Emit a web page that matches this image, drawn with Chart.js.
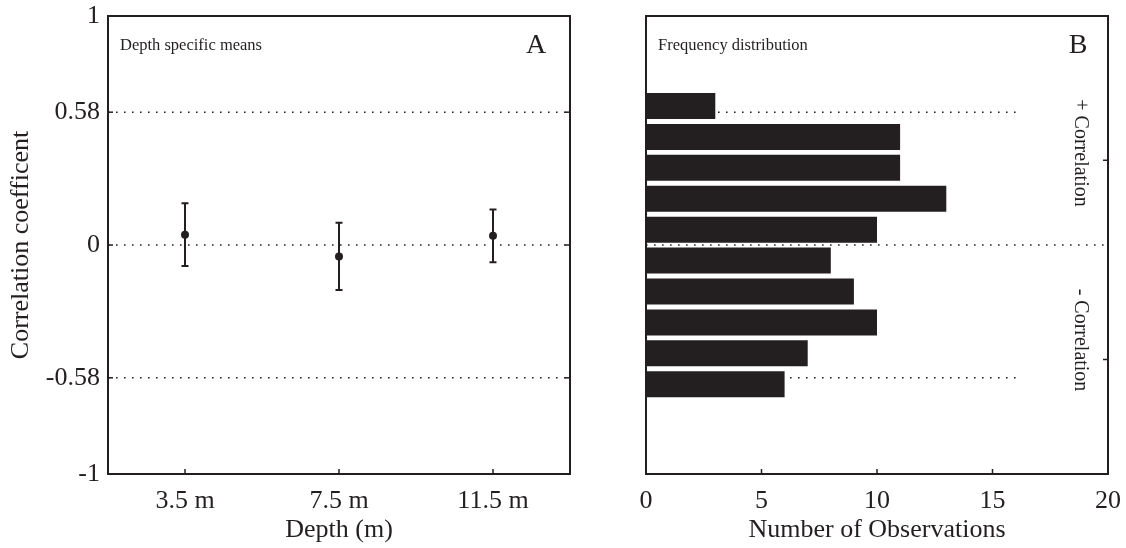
<!DOCTYPE html>
<html>
<head>
<meta charset="utf-8">
<script src="https://cdn.jsdelivr.net/npm/chart.js@4"></script>
<style>
  html, body { margin: 0; padding: 0; background: #fff; overflow: hidden; }
  #wrap { position: relative; width: 1126px; height: 548px; }
  canvas { position: absolute; top: 0; }
  #chartA { left: 0; }
  #chartB { left: 600px; }
</style>
</head>
<body>
<div id="wrap">
  <canvas id="chartA" width="600" height="548"></canvas>
  <canvas id="chartB" width="526" height="548"></canvas>
</div>
<script>
// panel A: depth specific means
const depthLabels = ['3.5 m', '7.5 m', '11.5 m'];
const depthMeans = [0.045, -0.05, 0.04];
const depthErrors = [0.137, 0.147, 0.115];
const corrTicks = [1, 0.58, 0, -0.58, -1];
const refLines = [0.58, 0, -0.58];

// panel B: frequency distribution
const binCenters = [0.607, 0.472, 0.337, 0.202, 0.067, -0.068, -0.203, -0.338, -0.473, -0.608];
const binCounts = [3, 11, 11, 13, 10, 8, 9, 10, 7, 6];
const countTicks = [0, 5, 10, 15, 20];
const sideTicks = [0.37, -0.5];
const refLineEnds = [16, 20, 16];

const ink = '#231f20';
Chart.defaults.font.family = '"Liberation Serif", "Times New Roman", serif';
Chart.defaults.color = ink;

function dotted(ctx, x1, x2, y) {
  ctx.save();
  ctx.strokeStyle = '#222';
  ctx.lineWidth = 1.6;
  ctx.setLineDash([1.6, 6.4]);
  ctx.beginPath();
  ctx.moveTo(x1, y);
  ctx.lineTo(x2, y);
  ctx.stroke();
  ctx.restore();
}

function frame(ctx, a) {
  ctx.save();
  ctx.strokeStyle = ink;
  ctx.lineWidth = 2;
  ctx.strokeRect(a.left, a.top, a.right - a.left, a.bottom - a.top);
  ctx.restore();
}

function tick(ctx, x1, y1, x2, y2) {
  ctx.save();
  ctx.strokeStyle = ink;
  ctx.lineWidth = 1.5;
  ctx.beginPath();
  ctx.moveTo(x1, y1);
  ctx.lineTo(x2, y2);
  ctx.stroke();
  ctx.restore();
}

// no extra room for end labels, the layout padding sets the plot box
function noEdgePad(s) {
  s.paddingLeft = 0; s.paddingRight = 0;
  s.paddingTop = 0; s.paddingBottom = 0;
}

const panelA = {
  id: 'panelA',
  beforeDatasetsDraw(chart) {
    const {ctx, chartArea: a, scales: {x, y}} = chart;
    refLines.forEach(v => dotted(ctx, a.left, a.right, y.getPixelForValue(v)));
    // error bars
    ctx.save();
    ctx.strokeStyle = ink;
    ctx.lineWidth = 2;
    depthMeans.forEach((m, i) => {
      const px = x.getPixelForValue(i);
      const top = y.getPixelForValue(m + depthErrors[i]);
      const bot = y.getPixelForValue(m - depthErrors[i]);
      ctx.beginPath();
      ctx.moveTo(px, top); ctx.lineTo(px, bot);
      ctx.moveTo(px - 3.5, top); ctx.lineTo(px + 3.5, top);
      ctx.moveTo(px - 3.5, bot); ctx.lineTo(px + 3.5, bot);
      ctx.stroke();
    });
    ctx.restore();
  },
  afterDraw(chart) {
    const {ctx, chartArea: a, scales: {x, y}} = chart;
    frame(ctx, a);
    refLines.forEach(v => {
      const py = y.getPixelForValue(v);
      tick(ctx, a.left, py, a.left + 5, py);
      tick(ctx, a.right, py, a.right - 5, py);
    });
    depthLabels.forEach((l, i) => {
      const px = x.getPixelForValue(i);
      tick(ctx, px, a.bottom, px, a.bottom - 5);
    });
    ctx.save();
    ctx.fillStyle = ink;
    ctx.textBaseline = 'middle';
    ctx.font = '16.5px "Liberation Serif"';
    ctx.fillText('Depth specific means', a.left + 12, a.top + 30);
    ctx.font = '28px "Liberation Serif"';
    ctx.textAlign = 'center';
    ctx.fillText('A', a.right - 34, a.top + 30);
    ctx.restore();
  }
};

const panelB = {
  id: 'panelB',
  beforeDatasetsDraw(chart) {
    const {ctx, scales: {x, y}} = chart;
    refLines.forEach((v, i) => dotted(ctx, x.getPixelForValue(0), x.getPixelForValue(refLineEnds[i]), y.getPixelForValue(v)));
  },
  afterDraw(chart) {
    const {ctx, chartArea: a, scales: {x, y}} = chart;
    frame(ctx, a);
    countTicks.slice(1, -1).forEach(v => {
      const px = x.getPixelForValue(v);
      tick(ctx, px, a.bottom, px, a.bottom - 5);
    });
    sideTicks.forEach(v => {
      const py = y.getPixelForValue(v);
      tick(ctx, a.right, py, a.right - 5, py);
    });
    ctx.save();
    ctx.fillStyle = ink;
    ctx.textBaseline = 'middle';
    ctx.font = '16.5px "Liberation Serif"';
    ctx.fillText('Frequency distribution', a.left + 12, a.top + 30);
    ctx.font = '28px "Liberation Serif"';
    ctx.textAlign = 'center';
    ctx.fillText('B', a.right - 30, a.top + 30);
    ctx.font = '20px "Liberation Serif"';
    [['+ Correlation', 153], ['- Correlation', 340]].forEach(([t, cy]) => {
      ctx.save();
      ctx.translate(a.right - 28, cy);
      ctx.rotate(Math.PI / 2);
      ctx.fillText(t, 0, 0);
      ctx.restore();
    });
    ctx.restore();
  }
};

new Chart(document.getElementById('chartA'), {
  type: 'line',
  data: {
    labels: depthLabels,
    datasets: [{
      data: depthMeans,
      showLine: false,
      pointRadius: 4,
      pointBackgroundColor: ink,
      pointBorderWidth: 0
    }]
  },
  options: {
    responsive: false,
    animation: false,
    devicePixelRatio: 1,
    layout: { padding: { left: 0, right: 30, top: 16, bottom: 0 } },
    plugins: { legend: { display: false }, tooltip: { enabled: false } },
    scales: {
      x: {
        type: 'category',
        offset: true,
        grid: { display: false, drawTicks: false },
        border: { display: false },
        ticks: { font: { size: 26 }, padding: 12, maxRotation: 0 },
        title: { display: true, text: 'Depth (m)', font: { size: 26 }, padding: { top: 0, bottom: 2 } },
        afterFit(s) { s.height = 74; noEdgePad(s); }
      },
      y: {
        min: -1, max: 1,
        grid: { display: false, drawTicks: false },
        border: { display: false },
        afterBuildTicks(s) { s.ticks = corrTicks.map(v => ({ value: v })); },
        ticks: { font: { size: 26 }, padding: 8, callback: v => String(v) },
        title: { display: true, text: 'Correlation coefficent', font: { size: 26 }, padding: { top: 6, bottom: 0 } },
        afterFit(s) { s.width = 108; noEdgePad(s); }
      }
    }
  },
  plugins: [panelA]
});

new Chart(document.getElementById('chartB'), {
  type: 'bar',
  data: {
    datasets: [{
      data: binCounts.map((c, i) => ({ x: c, y: binCenters[i] })),
      backgroundColor: ink,
      borderWidth: 0,
      barPercentage: 0.84,
      categoryPercentage: 1
    }]
  },
  options: {
    indexAxis: 'y',
    responsive: false,
    animation: false,
    devicePixelRatio: 1,
    layout: { padding: { left: 46, right: 18, top: 16, bottom: 0 } },
    plugins: { legend: { display: false }, tooltip: { enabled: false } },
    scales: {
      x: {
        type: 'linear',
        min: 0, max: 20,
        grid: { display: false, drawTicks: false },
        border: { display: false },
        afterBuildTicks(s) { s.ticks = countTicks.map(v => ({ value: v })); },
        ticks: { font: { size: 26 }, padding: 12, maxRotation: 0 },
        title: { display: true, text: 'Number of Observations', font: { size: 26 }, padding: { top: 0, bottom: 2 } },
        afterFit(s) { s.height = 74; noEdgePad(s); }
      },
      y: {
        type: 'linear',
        min: -1, max: 1,
        offset: false,
        display: false
      }
    }
  },
  plugins: [panelB]
});
</script>
</body>
</html>
